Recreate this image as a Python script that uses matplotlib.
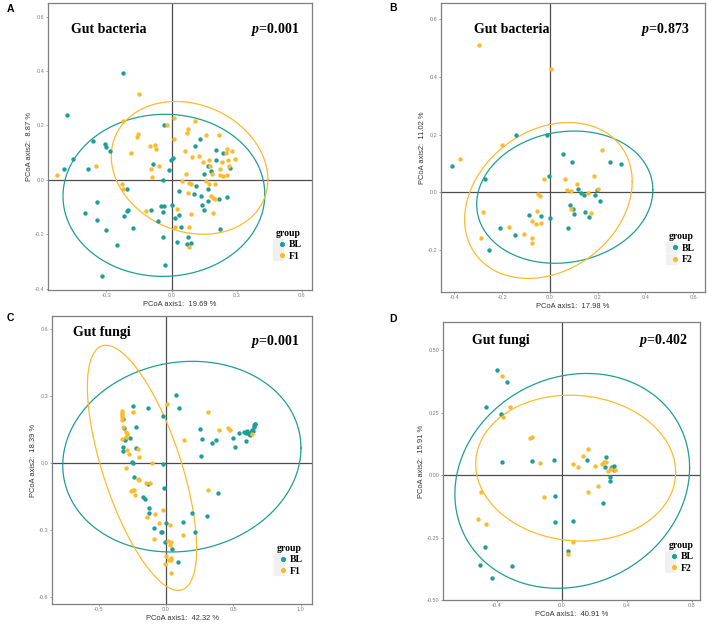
import numpy as np
import matplotlib
matplotlib.use("Agg")
import matplotlib.pyplot as plt
from matplotlib.lines import Line2D
from matplotlib.legend_handler import HandlerTuple

plt.rcParams['font.family'] = ['Liberation Sans', 'DejaVu Sans']
plt.rcParams['mathtext.fontset'] = 'custom'
plt.rcParams['mathtext.it'] = 'Liberation Serif:italic:bold'
plt.rcParams['mathtext.rm'] = 'Liberation Serif:bold'

# colours
teal = '#1E9E96'
gold = '#FDBA2C'

# ---- panel A: gut bacteria, BL vs F1 ----
a_bl = [(-0.221, 0.391), (-0.48, 0.239), (-0.452, 0.078), (-0.495, 0.04), (-0.384, 0.038),
        (-0.362, 0.141), (-0.306, 0.132), (-0.299, 0.12), (-0.285, 0.107), (-0.205, -0.033),
        (-0.342, -0.08), (-0.398, -0.122), (-0.341, -0.148), (-0.3, -0.184), (-0.219, -0.132),
        (-0.207, -0.115), (-0.202, -0.111), (-0.176, -0.177), (-0.253, -0.239), (-0.32, -0.355),
        (-0.095, -0.112), (-0.087, 0.059), (-0.036, 0.2), (-0.012, 0.035), (-0.003, 0.072),
        (0.006, 0.079), (-0.037, -0.002), (-0.048, -0.096), (-0.036, -0.096), (-0.04, -0.118),
        (-0.061, -0.151), (-0.039, -0.211), (-0.031, -0.312), (0.002, -0.091), (0.016, -0.141),
        (0.033, -0.129), (0.044, -0.173), (0.026, -0.23), (0.034, -0.041), (0.072, -0.235),
        (0.076, -0.211), (0.089, -0.234), (0.104, -0.052), (0.112, -0.024), (0.109, 0.123),
        (0.131, 0.149), (0.134, -0.06), (0.14, -0.093), (0.151, -0.112), (0.149, 0.022),
        (0.168, 0.05), (0.17, -0.032), (0.168, -0.079), (0.183, 0.033), (0.204, 0.111),
        (0.205, 0.074), (0.219, -0.07), (0.222, -0.182), (0.255, -0.063), (0.267, 0.044),
        (0.236, 0.1)]
a_f1 = [(-0.148, 0.316), (-0.527, 0.017), (-0.347, 0.05), (-0.222, 0.217), (-0.23, -0.015),
        (-0.225, -0.033), (-0.188, 0.098), (-0.157, 0.157), (-0.152, 0.167), (-0.118, -0.113),
        (-0.098, 0.123), (-0.093, 0.038), (-0.09, 0.012), (-0.075, 0.127), (-0.072, 0.113),
        (-0.059, 0.052), (-0.019, 0.2), (0.012, 0.228), (0.011, 0.151), (0.025, -0.109),
        (0.017, -0.173), (0.047, -0.006), (0.068, 0.021), (0.076, 0.188), (0.072, 0.173),
        (0.062, 0.105), (0.079, -0.013), (0.09, -0.017), (0.078, -0.048), (0.081, -0.173),
        (0.079, -0.248), (0.09, -0.124), (0.095, 0.083), (0.107, 0.217), (0.126, 0.089),
        (0.143, 0.065), (0.159, 0.163), (0.159, -0.006), (0.171, 0.073), (0.171, -0.017),
        (0.18, -0.06), (0.179, 0.05), (0.19, -0.122), (0.193, -0.067), (0.199, -0.07),
        (0.202, -0.017), (0.218, 0.166), (0.225, 0.04), (0.233, 0.065), (0.238, 0.013),
        (0.249, 0.099), (0.255, 0.115), (0.26, 0.073), (0.263, 0.05), (0.28, 0.105),
        (0.294, 0.076), (0.253, 0.017), (0.225, 0.017), (0.187, 0.022)]

# ---- panel B: gut bacteria, BL vs F2 ----
b_bl = [(-0.408, 0.092), (-0.271, 0.048), (-0.143, 0.198), (-0.014, 0.198), (-0.003, 0.058),
        (-0.001, -0.09), (-0.089, -0.078), (-0.035, -0.083), (-0.207, -0.125), (-0.147, -0.146),
        (-0.256, -0.198), (0.057, 0.133), (0.092, 0.106), (0.083, -0.045), (0.097, -0.057),
        (0.1, -0.074), (0.075, -0.125), (0.117, 0.012), (0.129, -0.001), (0.143, -0.008),
        (0.147, -0.069), (0.163, -0.085), (0.189, -0.01), (0.196, 0.009), (0.209, -0.031),
        (0.25, 0.106), (0.3, 0.098)]
b_f2 = [(-0.295, 0.512), (0.004, 0.429), (-0.375, 0.116), (-0.2, 0.164), (-0.281, -0.068),
        (-0.287, -0.159), (-0.172, -0.121), (-0.107, -0.144), (-0.074, -0.098), (-0.073, -0.158),
        (-0.073, -0.174), (-0.058, -0.11), (-0.054, -0.065), (-0.051, -0.006), (-0.04, -0.014),
        (-0.038, -0.105), (-0.026, 0.046), (0.063, 0.048), (0.07, 0.01), (0.09, 0.006),
        (0.088, -0.059), (0.115, 0.028), (0.16, -0.002), (0.172, -0.073), (0.186, 0.058),
        (0.202, 0.012), (0.22, 0.146)]

# ---- panel C: gut fungi, BL vs F1 ----
c_bl = [(0.072, 0.307), (0.099, 0.249), (-0.131, 0.249), (-0.248, 0.257), (-0.025, 0.21),
        (-0.322, 0.197), (-0.312, 0.158), (-0.22, 0.161), (-0.265, 0.115), (-0.302, 0.11),
        (-0.307, 0.104), (-0.319, 0.075), (-0.322, 0.054), (-0.22, 0.069), (-0.252, 0.004),
        (-0.243, 0.001), (-0.025, -0.003), (-0.238, -0.06), (-0.131, -0.094), (-0.015, -0.11),
        (-0.168, -0.149), (-0.156, -0.161), (-0.126, -0.2), (-0.126, -0.224), (0.193, -0.222),
        (0.302, -0.236), (0.386, -0.133), (0.126, -0.263), (0.218, -0.306), (0.0, -0.269),
        (-0.087, -0.291), (-0.027, -0.309), (-0.037, -0.306), (-0.005, -0.352), (0.045, -0.385),
        (0.092, -0.442), (0.25, 0.154), (0.267, 0.107), (0.257, 0.034), (0.342, 0.091),
        (0.369, 0.104), (0.498, 0.113), (0.515, 0.073), (0.545, 0.136), (0.592, 0.136),
        (0.597, 0.099), (0.582, 0.14), (0.599, 0.146), (0.616, 0.133), (0.626, 0.125),
        (0.631, 0.14), (0.641, 0.148), (0.649, 0.145), (0.653, 0.17), (0.661, 0.175),
        (0.663, 0.178), (0.656, 0.164)]
c_f1 = [(0.007, 0.267), (0.312, 0.23), (-0.248, 0.23), (-0.329, 0.233), (-0.327, 0.224),
        (-0.329, 0.215), (-0.324, 0.206), (-0.327, 0.196), (-0.319, 0.164), (-0.297, 0.14),
        (-0.287, 0.131), (-0.295, 0.118), (-0.329, 0.109), (0.136, 0.106), (0.396, 0.151),
        (0.458, 0.157), (0.473, 0.151), (0.639, 0.13), (-0.292, 0.06), (-0.275, 0.04),
        (-0.21, 0.066), (-0.198, 0.03), (-0.106, 0.003), (-0.295, -0.021), (-0.21, -0.069),
        (-0.203, -0.075), (-0.149, -0.087), (-0.119, -0.087), (-0.248, -0.118), (-0.24, -0.121),
        (-0.262, -0.125), (-0.233, -0.143), (-0.141, -0.24), (-0.079, -0.228), (-0.025, -0.21),
        (-0.05, -0.269), (0.027, -0.278), (-0.092, -0.337), (0.126, -0.321), (0.312, -0.118),
        (0.017, -0.349), (0.037, -0.352), (0.03, -0.366), (0.0, -0.413), (0.035, -0.424),
        (0.025, -0.434), (0.04, -0.434), (-0.01, -0.452), (0.035, -0.493)]

# ---- panel D: gut fungi, BL vs F2 ----
d_bl = [(-0.4, 0.421), (-0.335, 0.373), (-0.467, 0.272), (-0.371, 0.245), (-0.369, 0.052),
        (-0.184, 0.055), (-0.047, 0.06), (-0.043, -0.084), (-0.043, -0.189), (0.069, -0.185),
        (0.041, -0.303), (0.157, 0.059), (0.271, 0.072), (0.267, 0.032), (0.294, -0.008),
        (0.298, -0.025), (0.251, -0.113), (0.304, 0.027), (0.312, 0.032), (0.32, 0.037),
        (0.324, 0.021), (-0.469, -0.288), (-0.5, -0.36), (-0.306, -0.363), (-0.431, -0.411)]
d_f2 = [(-0.365, 0.395), (-0.316, 0.272), (-0.363, 0.232), (-0.198, 0.147), (-0.184, 0.153),
        (-0.135, 0.048), (-0.112, -0.088), (-0.496, -0.067), (-0.516, -0.176), (-0.467, -0.197),
        (0.159, 0.104), (0.129, 0.076), (0.071, 0.045), (0.098, 0.032), (0.204, 0.037),
        (0.249, 0.043), (0.259, 0.051), (0.273, 0.052), (0.282, 0.017), (0.302, 0.023),
        (0.33, 0.021), (0.22, -0.044), (0.161, -0.068), (0.067, -0.267), (0.037, -0.317)]

# ellipses: centre x, centre y, half x-extent, half y-extent,
# x offset of the topmost point from the centre (tilt)
a_ell = [(-0.035, -0.057, 0.464, 0.298, 0.005), (0.083, 0.044, 0.36, 0.244, -0.063)]
b_ell = [(0.0625, -0.0165, 0.369, 0.229, 0.04), (-0.006, -0.028, 0.351, 0.27, 0.085)]
c_ell = [(0.118, 0.03, 0.885, 0.427, 0.08), (-0.178, -0.02, 0.406, 0.549, -0.268)]
d_ell = [(0.0645, -0.023, 0.7215, 0.43, 0.089), (0.0857, 0.028, 0.6145, 0.292, -0.035)]

titles = ['Gut bacteria', 'Gut bacteria', 'Gut fungi', 'Gut fungi']
pvals = ['0.001', '0.873', '0.001', '0.402']
groups2 = ['F1', 'F2', 'F1', 'F2']
xlabels = ['PCoA axis1:  19.69 %', 'PCoA axis1:  17.98 %', 'PCoA axis1:  42.32 %', 'PCoA axis1:  40.91 %']
ylabels = ['PCoA axis2:  8.87 %', 'PCoA axis2:  11.02 %', 'PCoA axis2:  18.39 %', 'PCoA axis2:  15.91 %']
xticks = [[-0.3, 0.0, 0.3, 0.6], [-0.4, -0.2, 0.0, 0.2, 0.4, 0.6], [-0.5, 0.0, 0.5, 1.0], [-0.4, 0.0, 0.4, 0.8]]
yticks = [[-0.4, -0.2, 0.0, 0.2, 0.4, 0.6], [-0.2, 0.0, 0.2, 0.4, 0.6], [-0.6, -0.3, 0.0, 0.3, 0.6],
          [-0.5, -0.25, 0.0, 0.25, 0.5]]
yfmt = ['%.1f', '%.1f', '%.1f', '%.2f']
xlims = [(-0.568, 0.646), (-0.456, 0.65), (-0.847, 1.085), (-0.73, 0.85)]
ylims = [(-0.405, 0.65), (-0.345, 0.656), (-0.63, 0.66), (-0.5, 0.613)]

W, H = 708, 624
# axes boxes in pixels: left, top, right, bottom
boxes = [(48, 3, 312, 290), (441, 3, 705, 292), (52, 316, 312, 604), (443, 322, 700, 600)]
letters = ['A', 'B', 'C', 'D']
letter_pos = [(10, 9), (393, 8), (10, 318), (393, 319)]
title_pos = [(0.232, 0.909), (0.269, 0.91), (0.19, 0.941), (0.226, 0.935)]
p_pos = [(0.859, 0.909), (0.848, 0.91), (0.858, 0.913), (0.857, 0.935)]
leg_pos = [(0.913, 0.157), (0.913, 0.152), (0.915, 0.153), (0.927, 0.155)]

panels = [(a_bl, a_f1, a_ell), (b_bl, b_f2, b_ell), (c_bl, c_f1, c_ell), (d_bl, d_f2, d_ell)]


def ellipse_xy(cx, cy, rx, ry, dxtop, n=300):
    sxy = dxtop * ry
    L = np.linalg.cholesky(np.array([[rx ** 2, sxy], [sxy, ry ** 2]]))
    t = np.linspace(0, 2 * np.pi, n)
    pts = L @ np.vstack([np.cos(t), np.sin(t)])
    return cx + pts[0], cy + pts[1]


fig = plt.figure(figsize=(W / 100, H / 100), dpi=100)
serif = 'Liberation Serif'

for k, (bl, other, ells) in enumerate(panels):
    l, t, r, b = boxes[k]
    ax = fig.add_axes([l / W, 1 - b / H, (r - l) / W, (b - t) / H])
    bl = np.array(bl)
    other = np.array(other)

    ax.axhline(0, color='#4d4d4d', lw=0.9, zorder=1)
    ax.axvline(0, color='#4d4d4d', lw=0.9, zorder=1)

    for (cx, cy, rx, ry, dx), col in zip(ells, [teal, gold]):
        ex, ey = ellipse_xy(cx, cy, rx, ry, dx)
        ax.plot(ex, ey, color=col, lw=0.9, zorder=2)

    ax.scatter(bl[:, 0], bl[:, 1], s=10, color=teal, lw=0, zorder=3)
    ax.scatter(other[:, 0], other[:, 1], s=10, color=gold, lw=0, zorder=3)

    ax.set_xlim(*xlims[k])
    ax.set_ylim(*ylims[k])
    ax.set_xticks(xticks[k])
    ax.set_xticklabels(['%.1f' % v for v in xticks[k]])
    ax.set_yticks(yticks[k])
    ax.set_yticklabels([yfmt[k] % v for v in yticks[k]])
    ax.tick_params(labelsize=4, colors='#7f7f7f', length=1.5, width=0.5, pad=1)
    for s in ax.spines.values():
        s.set_color('#7f7f7f')
        s.set_linewidth(0.9)

    ax.set_xlabel(xlabels[k], fontsize=5.4, color='#333333', labelpad=1.5)
    ax.set_ylabel(ylabels[k], fontsize=5.4, color='#333333', labelpad=1.5)

    ax.text(*title_pos[k], titles[k], transform=ax.transAxes, ha='center', va='center',
            fontsize=10, fontweight='bold', family=serif)
    ax.text(*p_pos[k], r'$p$=' + pvals[k], transform=ax.transAxes,
            ha='center', va='center', fontsize=10, fontweight='bold', family=serif)

    bg = dict(marker='s', markersize=7.5, color='#f0f0f0', lw=0)
    h1 = (Line2D([], [], **bg), Line2D([], [], marker='o', markersize=2.7, color=teal, lw=0))
    h2 = (Line2D([], [], **bg), Line2D([], [], marker='o', markersize=2.7, color=gold, lw=0))
    leg = ax.legend([h1, h2], ['BL', groups2[k]], handler_map={tuple: HandlerTuple(ndivide=None)},
                    loc='center', bbox_to_anchor=leg_pos[k], frameon=False, title='group',
                    prop={'family': serif, 'weight': 'bold', 'size': 7},
                    handlelength=0.8, handletextpad=0.5, labelspacing=0.25, borderpad=0.1)
    leg.get_title().set_fontproperties({'family': serif, 'weight': 'bold', 'size': 7})
    leg._legend_box.align = 'left'

    fig.text(letter_pos[k][0] / W, 1 - letter_pos[k][1] / H, letters[k], ha='center', va='center',
             fontsize=7.5, fontweight='bold')

fig.savefig('out.png', dpi=100)
